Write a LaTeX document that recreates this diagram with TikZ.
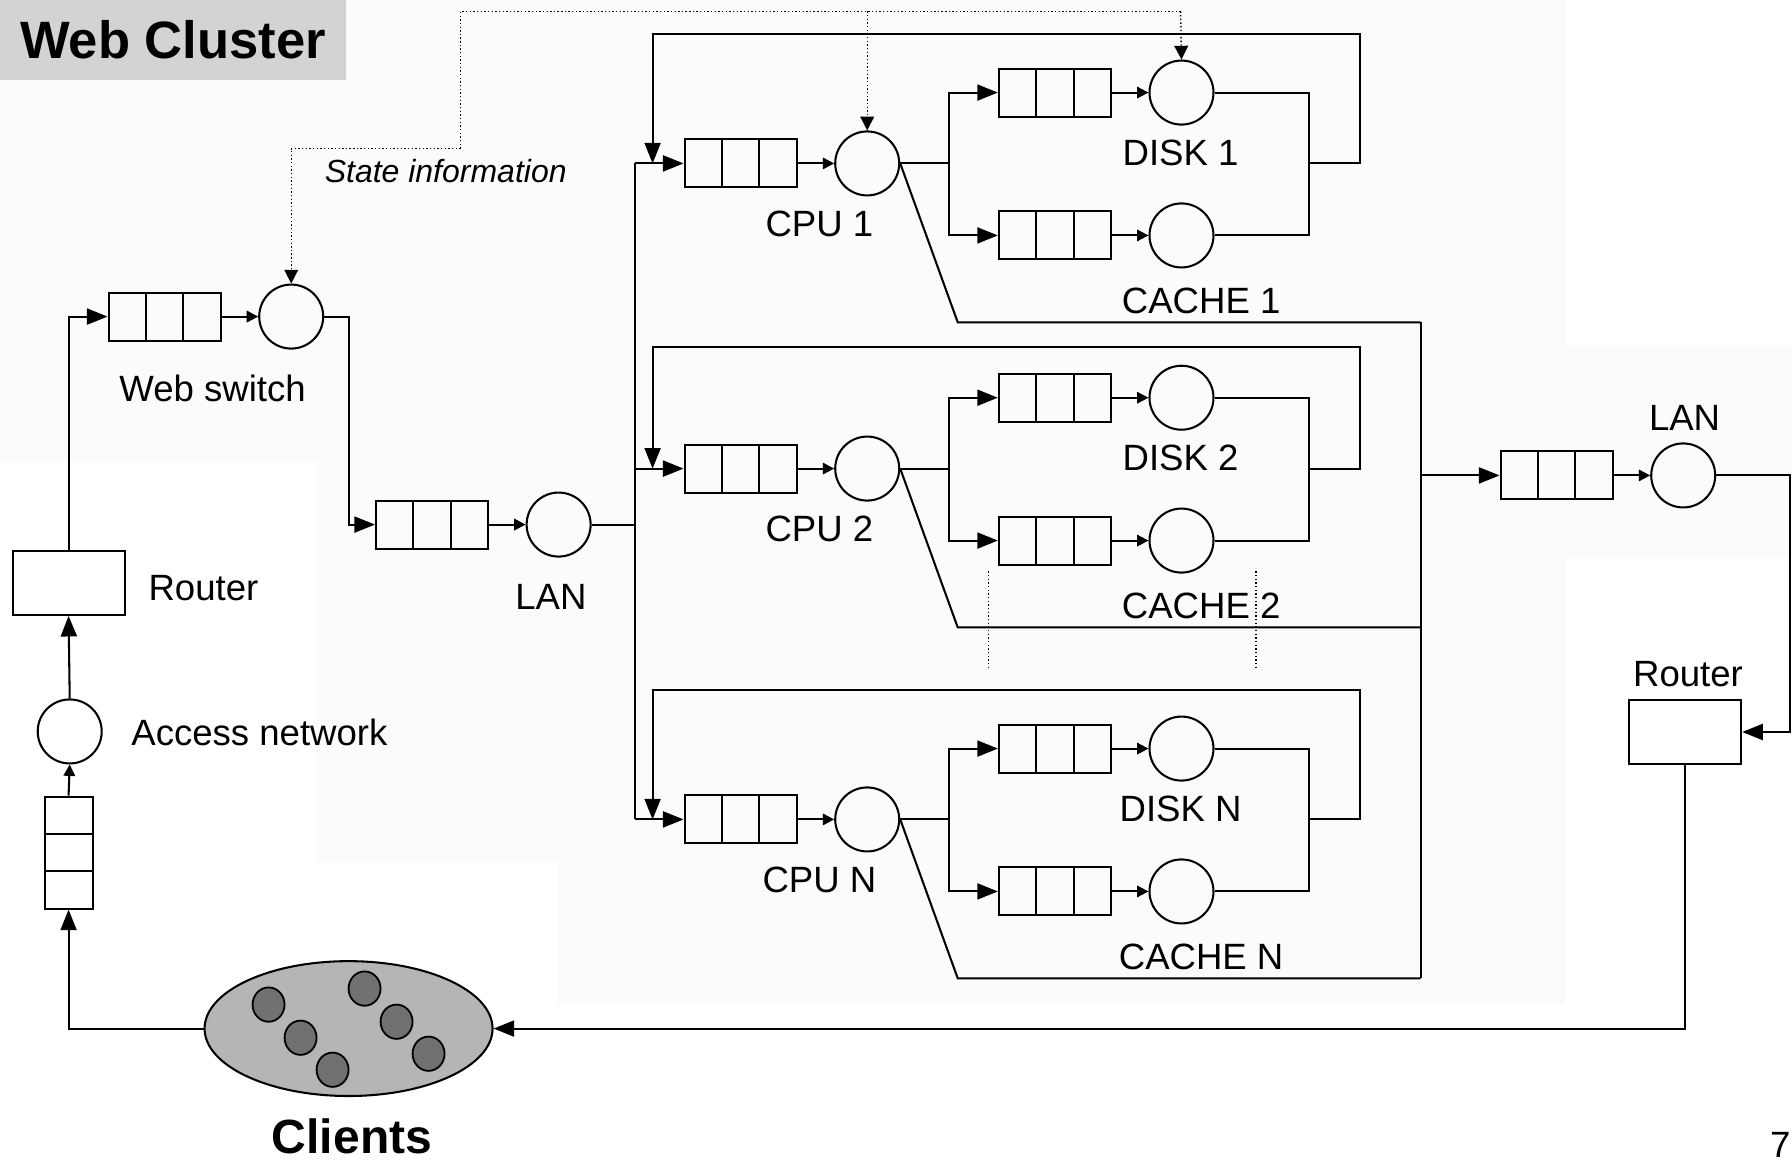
\documentclass[tikz,border=0pt]{standalone}
\usepackage{fontspec}
\setmainfont{Liberation Sans}
\usetikzlibrary{positioning,arrows.meta,shapes.geometric,calc}
\definecolor{ClusterGrey}{HTML}{D3D3D3}
\definecolor{PanelGrey}{HTML}{FBFBFB}
\definecolor{CrowdGrey}{HTML}{B5B5B5}
\definecolor{UserGrey}{HTML}{717171}

\tikzset{
  wire/.style={line width=0.9pt},
  feed/.style={wire, -{Triangle[length=9pt,width=7pt]}},
  hop/.style={wire, -{Triangle[length=5pt,width=5pt]}},
  stateline/.style={densely dotted, line width=0.6pt},
  statetip/.style={stateline, -{Triangle[length=6pt,width=6pt]}},
  server/.style={draw, line width=0.9pt, circle, minimum size=28pt, inner sep=0pt},
  box/.style={draw, line width=0.9pt, minimum width=49pt, minimum height=28pt, inner sep=0pt},
  queue/.style={draw, line width=0.9pt, minimum width=49pt, minimum height=21pt, inner sep=0pt,
    path picture={\foreach \f in {1,2} \draw[line width=0.9pt]
      ($(path picture bounding box.south west)!\f/3!(path picture bounding box.south east)$) --
      ($(path picture bounding box.north west)!\f/3!(path picture bounding box.north east)$);}},
  vqueue/.style={draw, line width=0.9pt, minimum width=21pt, minimum height=49pt, inner sep=0pt,
    path picture={\foreach \f in {1,2} \draw[line width=0.9pt]
      ($(path picture bounding box.south west)!\f/3!(path picture bounding box.north west)$) --
      ($(path picture bounding box.south east)!\f/3!(path picture bounding box.north east)$);}},
  lbl/.style={font=\fontsize{16pt}{19pt}\selectfont, inner sep=0pt},
  crowd/.style={draw, line width=0.9pt, ellipse, fill=CrowdGrey, minimum width=126pt, minimum height=59pt, inner sep=0pt},
  user/.style={draw, line width=0.8pt, ellipse, fill=UserGrey, minimum width=14pt, minimum height=15pt, inner sep=0pt},
  title/.style={fill=ClusterGrey, minimum width=151.5pt, minimum height=35pt, inner sep=0pt,
    font=\bfseries\fontsize{23pt}{27pt}\selectfont}
}

\begin{document}
\begin{tikzpicture}[x=0.5pt, y=-0.5pt]
  \useasboundingbox (0,0) rectangle (1568,1017);
  \fill[PanelGrey] (0,0) -- (1370,0) -- (1370,304) -- (1568,304) -- (1568,487) -- (1370,487) -- (1370,880)
    -- (488,880) -- (488,753) -- (277,753) -- (277,403) -- (0,403) -- cycle;

  \node[title] (title) at (151.5,35) {Web Cluster};

  \node[queue] (wsq) at (144,277) {};
  \node[server, right=16pt of wsq] (ws) {};
  \node[lbl] (wslbl) at (186,340) {Web switch};

  \node[queue] (lanq) at (378,459) {};
  \node[server, right=16pt of lanq] (lan) {};
  \node[lbl] (lanlbl) at (482,522) {LAN};

  \node[box] (router1) at (60,510) {};
  \node[lbl] (router1lbl) at (178,515) {Router};
  \node[server] (access) at (61,640) {};
  \node[lbl] (accesslbl) at (227,641) {Access network};
  \node[vqueue] (vq) at (60,746) {};

  \node[queue] (rlanq) at (1362,416) {};
  \node[server, right=16pt of rlanq] (rlan) {};
  \node[lbl] (rlanlbl) at (1474,366) {LAN};
  \node[box] (router2) at (1474.5,640.5) {};
  \node[lbl] (router2lbl) at (1477,590) {Router};

  \node[crowd] (clients) at (305,900) {};
  \foreach \cx/\cy [count=\k] in {235/879, 319/865, 263/908, 347/894, 291/936, 375/922}
    \node[user] (user\k) at (\cx,\cy) {};
  \node[font=\bfseries\fontsize{21pt}{25pt}\selectfont, inner sep=0pt] (clientslbl) at (308,994) {Clients};
  \node[lbl, anchor=east] (pagenum) at (1567,1002) {7};

  \coordinate (bustop) at (556,143);
  \coordinate (busbot) at (556,717);
  \coordinate (exittop) at (1243,282);
  \coordinate (exitbot) at (1243,856);
  \coordinate (wsout) at (305,277);
  \coordinate (rlanout) at (1566,416);

  \foreach \r/\y/\t/\top in {1/143/1/30, 2/410/2/304, 3/717/N/604} {
    \node[queue] (cpuq\r) at (648,\y) {};
    \node[server, right=16pt of cpuq\r] (cpu\r) {};
    \node[lbl] (cpulbl\r) at (717,\y+53) {CPU \t};
    \node[queue] (diskq\r) at (923,\y-62) {};
    \node[server, right=16pt of diskq\r] (disk\r) {};
    \node[lbl] (disklbl\r) at (1033,\y-9) {DISK \t};
    \node[queue] (cacheq\r) at (923,\y+63) {};
    \node[server, right=16pt of cacheq\r] (cache\r) {};
    \node[lbl] (cachelbl\r) at (1051,\y+120) {CACHE \t};

    \coordinate (split\r) at (830,\y);
    \coordinate (join\r) at (1145,\y);
    \coordinate (turn\r) at (1190,\top);
    \coordinate (drop\r) at (571,\top);
    \coordinate (bend\r) at (838,\y+139);

    \draw[feed] (bustop |- cpuq\r.west) -- (cpuq\r.west);
    \draw[hop] (cpuq\r) -- (cpu\r);
    \draw[wire] (cpu\r.east) -- (split\r);
    \draw[feed] (split\r) |- (diskq\r.west);
    \draw[feed] (split\r) |- (cacheq\r.west);
    \draw[hop] (diskq\r) -- (disk\r);
    \draw[hop] (cacheq\r) -- (cache\r);
    \draw[wire] (disk\r.east) -- (disk\r.east -| join\r) -- (cache\r.east -| join\r) -- (cache\r.east);
    \draw[feed] (join\r) -| (turn\r) -- (drop\r) -- (drop\r |- cpuq\r.west);
    \draw[wire] (cpu\r.east) -- (bend\r) -- (exittop |- bend\r);
  }

  \draw[feed] (clients.west) -| (vq.south);
  \draw[hop] (vq.north) -- (access.south);
  \draw[feed] (access.north) -- (router1.south);
  \draw[feed] (router1.north) |- (wsq.west);
  \draw[hop] (wsq) -- (ws);
  \draw[feed] (ws.east) -- (wsout) |- (lanq.west);
  \draw[hop] (lanq) -- (lan);
  \draw[wire] (lan.east) -- (lan.east -| bustop);
  \draw[wire] (bustop) -- (busbot);
  \draw[wire] (exittop) -- (exitbot);
  \draw[feed] (exittop |- rlanq.west) -- (rlanq.west);
  \draw[hop] (rlanq) -- (rlan);
  \draw[feed] (rlan.east) -- (rlanout) |- (router2.east);
  \draw[feed] (router2.south) |- (clients.east);

  \coordinate (st1) at (403,130);
  \coordinate (st2) at (1033,10);
  \draw[statetip] (st1) -| (ws.north);
  \draw[stateline] (st1) |- (st2);
  \draw[statetip] (st2) -- (disk1.north);
  \draw[statetip] (cpu1.north |- st2) -- (cpu1.north);
  \node[font=\itshape\fontsize{14pt}{17pt}\selectfont, inner sep=0pt] (statelbl) at (390,150) {State information};
  \draw[stateline] (865,500) -- (865,585);
  \draw[stateline] (1099,500) -- (1099,585);
\end{tikzpicture}
\end{document}
